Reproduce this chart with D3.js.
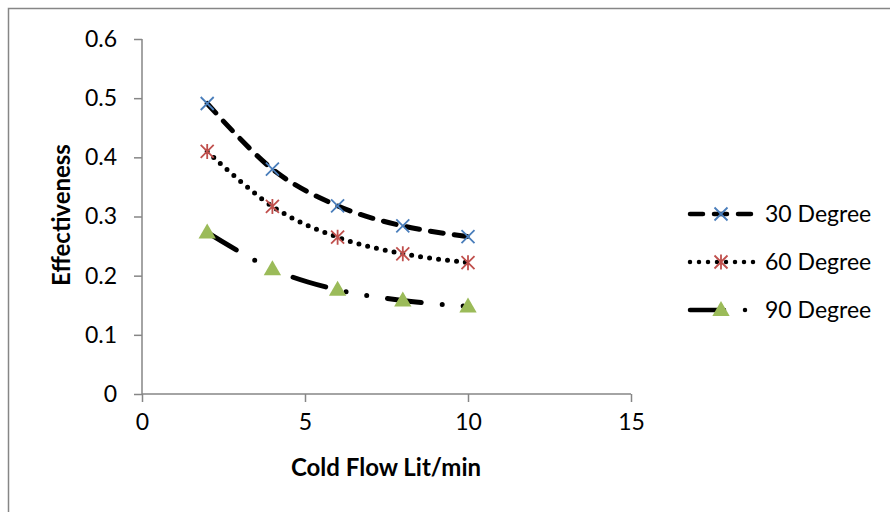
<!DOCTYPE html>
<html>
<head>
<meta charset="utf-8">
<script src="https://cdn.jsdelivr.net/npm/d3@7"></script>
<style>
  html, body { margin: 0; padding: 0; background: #fff; }
  svg { display: block; font-family: Lato, "Open Sans", sans-serif; }
</style>
</head>
<body>
<svg id="chart" width="890" height="512"></svg>
<script>
// Effectiveness vs cold flow, three tube angles
const flow = [2, 4, 6, 8, 10];
const deg30 = [0.491, 0.380, 0.318, 0.284, 0.266];
const deg60 = [0.410, 0.317, 0.265, 0.237, 0.222];
const deg90 = [0.273, 0.211, 0.176, 0.158, 0.148];
const xTicks = [0, 5, 10, 15];
const yTicks = [0, 0.1, 0.2, 0.3, 0.4, 0.5, 0.6];
const seriesNames = ["30 Degree", "60 Degree", "90 Degree"];

const series = [
  { name: seriesNames[0], vals: deg30, dash: "13,11", marker: "x", color: "#4a7ebb" },
  { name: seriesNames[1], vals: deg60, dash: "0,9", marker: "star", color: "#c0504d" },
  { name: seriesNames[2], vals: deg90, dash: "34,21,0,21,0,21", marker: "tri", color: "#9bbb59" },
];

const svg = d3.select("#chart");
const axisCol = "#868686";
const FS = "23px";

// outer chart frame (right/bottom fall off the picture)
svg.append("rect").attr("x", 8.5).attr("y", 8.5).attr("width", 900).attr("height", 520)
  .attr("fill", "none").attr("stroke", axisCol).attr("stroke-width", 1.5);

const x = d3.scaleLinear().domain([0, 15]).range([142, 631]);
const y = d3.scaleLinear().domain([0, 0.6]).range([394, 39]);

// axes
const yAxis = svg.append("g").attr("transform", "translate(142,0)")
  .call(d3.axisLeft(y).tickValues(yTicks).tickFormat(d => d === 0 ? "0" : d3.format(".1f")(d))
    .tickSize(8).tickPadding(17));
const xAxis = svg.append("g").attr("transform", "translate(0,394)")
  .call(d3.axisBottom(x).tickValues(xTicks).tickFormat(d3.format("d")).tickSize(8).tickPadding(12));
[yAxis, xAxis].forEach(g => {
  g.select(".domain").attr("stroke", axisCol).attr("stroke-width", 1.5);
  g.selectAll(".tick line").attr("stroke", axisCol).attr("stroke-width", 1.5);
  g.selectAll("text").attr("fill", "#000").style("font-size", FS).style("font-family", "Lato, 'Open Sans', sans-serif");
});
xAxis.select(".domain").attr("d", "M142,0H631");
yAxis.select(".domain").attr("d", "M0,39V394");

svg.append("text").attr("x", 386).attr("y", 476).attr("text-anchor", "middle")
  .style("font-size", "24px").style("font-weight", "bold").text("Cold Flow Lit/min");
svg.append("text").attr("transform", "translate(70,215) rotate(-90)").attr("text-anchor", "middle")
  .style("font-size", "24px").style("font-weight", "bold").text("Effectiveness");

const line = d3.line().x(d => x(d[0])).y(d => y(d[1])).curve(d3.curveCatmullRom.alpha(0));

function drawMarker(g, type, color, cx, cy) {
  if (type === "x") {
    const r = 6.5;
    g.append("path").attr("d", `M${cx - r},${cy - r}L${cx + r},${cy + r}M${cx - r},${cy + r}L${cx + r},${cy - r}`)
      .attr("stroke", color).attr("stroke-width", 1.8).attr("fill", "none");
  } else if (type === "star") {
    const r = 6.5;
    g.append("path").attr("d", `M${cx - r},${cy - r}L${cx + r},${cy + r}M${cx - r},${cy + r}L${cx + r},${cy - r}M${cx},${cy - r - 1}L${cx},${cy + r + 1}`)
      .attr("stroke", color).attr("stroke-width", 1.8).attr("fill", "none");
  } else {
    g.append("path").attr("d", d3.symbol(d3.symbolTriangle, 130)())
      .attr("transform", `translate(${cx},${cy + 1})`).attr("fill", color);
  }
}

const plot = svg.append("g");
series.forEach(s => {
  const pts = flow.map((f, i) => [f, s.vals[i]]);
  plot.append("path").attr("d", line(pts)).attr("fill", "none").attr("stroke", "#000")
    .attr("stroke-width", 5).attr("stroke-dasharray", s.dash)
    .attr("stroke-linecap", "round");
  pts.forEach(p => drawMarker(plot, s.marker, s.color, x(p[0]), y(p[1])));
});

// legend
const legY = [214, 262, 310];
series.forEach((s, i) => {
  const g = svg.append("g");
  g.append("path").attr("d", `M690,${legY[i]}H754`).attr("stroke", "#000").attr("fill", "none")
    .attr("stroke-width", 4.5).attr("stroke-dasharray", s.dash).attr("stroke-linecap", "round");
  drawMarker(g, s.marker, s.color, 721, legY[i]);
  g.append("text").attr("x", 765).attr("y", legY[i]).attr("dy", "0.36em")
    .style("font-size", FS).text(s.name);
});
</script>
</body>
</html>
